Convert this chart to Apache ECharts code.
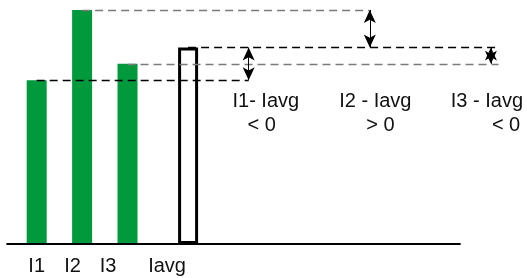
<!DOCTYPE html>
<html>
<head>
<meta charset="utf-8">
<script src="https://cdn.jsdelivr.net/npm/echarts@6/dist/echarts.min.js"></script>
<style>
html, body { margin: 0; padding: 0; background: #fff; }
#chart { width: 527px; height: 278px; }
</style>
</head>
<body>
<div id="chart"></div>
<script>
// phase currents (I2 taken as 100)
var categories = ['I1', 'I2', 'I3', 'Iavg'];
var currents = [70, 100, 77, 84];
var diffLabels = ['I1- Iavg', 'I2 - Iavg', 'I3 - Iavg'];
var signLabels = ['< 0', '> 0', '< 0'];

// layout: the x axis is cut into narrow slots so bars, arrows and notes land where the drawing has them
var SLOTS = 69;
var barSlot = [4, 10, 16, 24];
var guideEnd = [32, 48, 65, 65];
var guideColor = ['#000', '#7a7a7a', '#7a7a7a', '#000'];
var arrowSlot = [32, 48, 64];
var noteSlot = [34, 49, 64];
var noteShift = [2, -2, -4];
var signSlot = [34, 49, 66];
var signShift = [-2, 3, 0];
var noteRow = [61, 50.5];
var labelPad = [0, 19, 39, 42];   // axis labels sit left of their bars
var FONT = 'Liberation Sans';
var GREEN = '#009a3d';

var slotNames = [];
var barData = [];
for (var i = 0; i < SLOTS; i++) {
    slotNames.push('');
    barData.push('-');
}
for (var i = 0; i < categories.length; i++) {
    slotNames[barSlot[i]] = categories[i];
    barData[barSlot[i]] = {value: currents[i]};
}
// Iavg is an empty box
barData[barSlot[3]].itemStyle = {color: '#fff', borderColor: '#000', borderWidth: 3};

var rich = {};
for (var i = 0; i < categories.length; i++) {
    rich['l' + i] = {fontSize: 20, fontFamily: FONT, color: '#111', padding: [0, labelPad[i], 0, 0]};
}

// dashed guides from each bar top, the baseline, and the difference arrows
var lines = [];
for (var i = 0; i < categories.length; i++) {
    lines.push([
        {coord: [barSlot[i], currents[i]], lineStyle: {color: guideColor[i]}},
        {coord: [guideEnd[i], currents[i]]}
    ]);
}
lines.push([
    {coord: [0, 0], lineStyle: {color: '#000', width: 2, type: 'solid'}},
    {coord: [60, 0]}
]);
for (var i = 0; i < 3; i++) {
    lines.push([
        {coord: [arrowSlot[i], currents[3]], symbol: 'arrow', symbolSize: [9, 13],
            lineStyle: {color: '#000', width: 1, type: 'solid'}},
        {coord: [arrowSlot[i], currents[i]], symbol: 'arrow', symbolSize: [9, 13]}
    ]);
}

var notes = [];
for (var i = 0; i < 3; i++) {
    notes.push({name: diffLabels[i], coord: [noteSlot[i], noteRow[0]], label: {offset: [noteShift[i], 0]}});
    notes.push({name: signLabels[i], coord: [signSlot[i], noteRow[1]], label: {offset: [signShift[i], 0]}});
}

var myChart = echarts.init(document.getElementById('chart'));
var option = {
    animation: false,
    grid: {left: 6.4, right: 5.8, top: 10, bottom: 34},
    xAxis: {
        type: 'category',
        data: slotNames,
        boundaryGap: false,
        axisLine: {show: false},
        axisTick: {show: false},
        splitLine: {show: false},
        axisLabel: {
            interval: 0,
            margin: 12,
            formatter: function (v) {
                var k = categories.indexOf(v);
                return k < 0 ? '' : '{l' + k + '|' + v + '}';
            },
            rich: rich
        }
    },
    yAxis: {type: 'value', min: 0, max: 100, show: false},
    series: [
        {
            type: 'bar',
            data: barData,
            barWidth: 20,
            itemStyle: {color: GREEN},
            markLine: {
                silent: true,
                symbol: ['none', 'none'],
                label: {show: false},
                lineStyle: {width: 1.4, type: [8, 5]},
                data: lines
            },
            markPoint: {
                silent: true,
                symbol: 'circle',
                symbolSize: 2,
                itemStyle: {color: 'rgba(0,0,0,0)'},
                label: {
                    show: true,
                    position: 'inside',
                    formatter: '{b}',
                    fontSize: 20,
                    fontFamily: FONT,
                    color: '#111'
                },
                data: notes
            }
        }
    ]
};
myChart.setOption(option);
</script>
</body>
</html>
